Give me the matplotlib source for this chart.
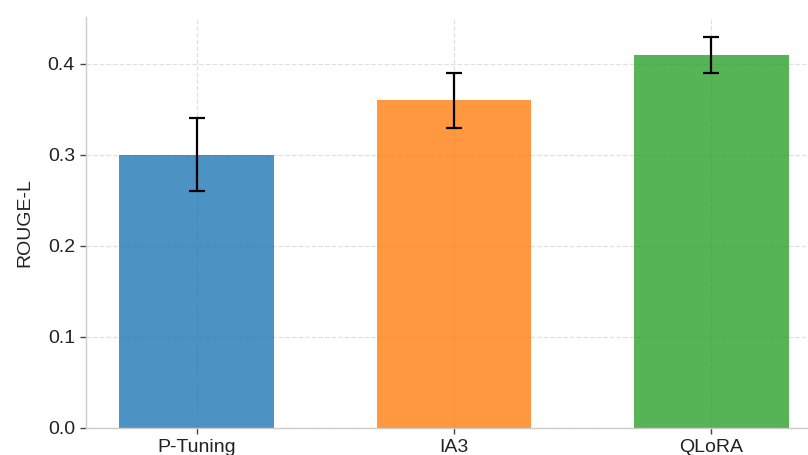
import matplotlib
matplotlib.use("Agg")
import matplotlib.pyplot as plt

methods = ["P-Tuning", "IA3", "QLoRA"]
rouge_l = [0.30, 0.36, 0.41]
rouge_err = [0.04, 0.03, 0.02]
colors = ["#1f77b4", "#ff7f0e", "#2ca02c"]

plt.rcParams["font.family"] = ["Liberation Sans", "DejaVu Sans"]

fig = plt.figure(figsize=(8.08, 4.55), dpi=100)
# the original is cropped on the right, so the axes run past the figure edge
ax = fig.add_axes([86 / 808, 27 / 455, 736 / 808, 411 / 455])

ax.bar(methods, rouge_l, width=0.6, color=colors, alpha=0.8,
       yerr=rouge_err, capsize=6,
       error_kw=dict(elinewidth=1.6, capthick=1.6, ecolor="black"))

ax.set_ylabel("ROUGE-L", fontsize=14, color="#222222", labelpad=10)
ax.tick_params(axis="both", labelsize=14, colors="#444444",
               labelcolor="#222222", length=4, width=1, pad=4)
ax.set_axisbelow(True)
ax.grid(True, linestyle="--", color="#cccccc", alpha=0.6, linewidth=0.9)

for side in ["top", "right"]:
    ax.spines[side].set_visible(False)
for side in ["left", "bottom"]:
    ax.spines[side].set_color("#cccccc")
    ax.spines[side].set_linewidth(1.0)

fig.savefig("out.png", dpi=100)
